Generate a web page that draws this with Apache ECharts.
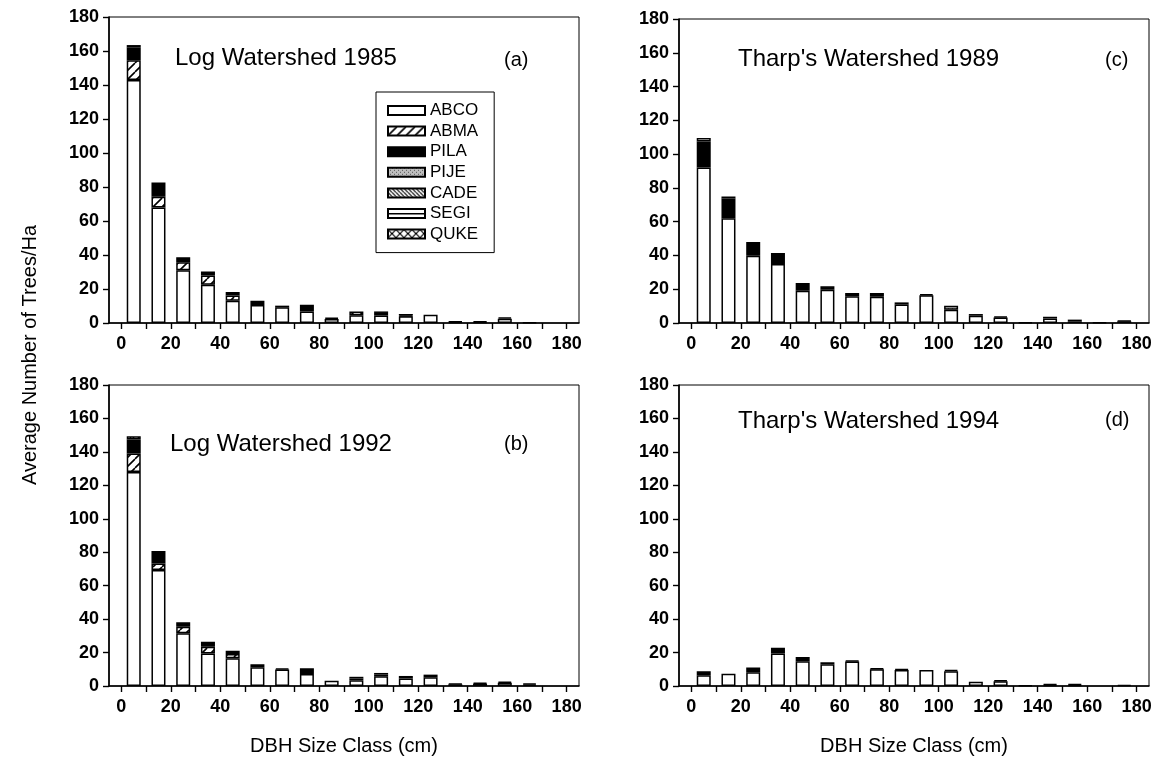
<!DOCTYPE html>
<html>
<head>
<meta charset="utf-8">
<script src="https://cdn.jsdelivr.net/npm/echarts@6/dist/echarts.min.js"></script>
<style>
  html, body { margin: 0; padding: 0; background: #fff; }
  #chart { width: 1158px; height: 767px; }
</style>
</head>
<body>
<div id="chart"></div>
<script>
// DBH size classes (bar centres, cm)
const sizeClasses = [5, 15, 25, 35, 45, 55, 65, 75, 85, 95, 105, 115, 125, 135, 145, 155, 165, 175];
const xTicks = [0, 10, 20, 30, 40, 50, 60, 70, 80, 90, 100, 110, 120, 130, 140, 150, 160, 170, 180];
const xLabels = [0, 20, 40, 60, 80, 100, 120, 140, 160, 180];
const species = ['ABCO', 'ABMA', 'PILA', 'PIJE', 'CADE', 'SEGI', 'QUKE'];

// (a) Log Watershed 1985
const log85_ABCO = [143, 68, 31, 22.5, 13.1, 10.6, 9.2, 6.8, 2.4, 4.5, 4.4, 3.9, 4.9, 0.6, 0.5, 2.5, 0.3, 0];
const log85_ABMA = [11.5, 6.3, 4.8, 5.4, 3.1, 0, 0, 0, 0, 2.3, 1.5, 0.5, 0, 0.4, 0, 0, 0, 0];
const log85_PILA = [7.5, 8.4, 2.9, 2.4, 2, 2.5, 1, 3.9, 0.7, 0, 0.9, 0.9, 0, 0, 0.5, 0.8, 0, 0];
const log85_QUKE = [1.5, 0, 0, 0, 0, 0, 0, 0, 0, 0, 0, 0, 0, 0, 0, 0, 0, 0];

// (b) Log Watershed 1992
const log92_ABCO = [128, 69.3, 31.5, 19.5, 16.6, 11.2, 9.8, 7.2, 3.2, 3.5, 5.8, 4.5, 5.2, 1, 1.4, 1.9, 0.8, 0];
const log92_ABMA = [11, 4, 3.9, 4, 2.5, 0, 0, 0, 0, 1, 1, 0, 0, 0, 0, 0, 0, 0];
const log92_PILA = [8.4, 7.4, 2.7, 3, 2, 1.8, 0.8, 3.4, 0, 1, 1, 1.5, 1.6, 0.5, 0.6, 0.7, 0.8, 0];
const log92_QUKE = [2, 0, 0, 0, 0, 0, 0, 0, 0, 0, 0, 0, 0, 0, 0, 0, 0, 0];

// (c) Tharp's Watershed 1989
const tharp89_ABCO = [92, 62, 39.8, 34.9, 19.1, 19.7, 15.8, 15.5, 10.9, 16.4, 7.9, 4.3, 3.2, 0, 2.7, 1, 0.3, 1];
const tharp89_PILA = [15.5, 11.7, 8.1, 6.5, 4.6, 2, 2, 2.3, 1.3, 0.8, 0, 1, 0.7, 0.4, 1, 1, 0, 0.4];
const tharp89_PIJE = [0, 1.2, 0, 0, 0, 0, 0, 0, 0, 0, 2.3, 0, 0, 0, 0, 0, 0, 0];
const tharp89_SEGI = [2, 0, 0, 0, 0, 0, 0, 0, 0, 0, 0, 0, 0, 0, 0, 0, 0, 0];

// (d) Tharp's Watershed 1994
const tharp94_ABCO = [6.4, 7.4, 8.2, 19.4, 14.8, 13, 14.6, 10, 9.6, 9.6, 8.8, 2.6, 2.8, 0, 0.6, 0.6, 0, 0.6];
const tharp94_PILA = [2.4, 0, 2.8, 3.4, 2.6, 1.2, 0.6, 0.6, 0.6, 0, 0.8, 0, 0.8, 0.4, 0.6, 0.6, 0, 0];

const panels = [
  { title: 'Log Watershed 1985', tag: '(a)', left: 109, top: 17, height: 306,
    data: { ABCO: log85_ABCO, ABMA: log85_ABMA, PILA: log85_PILA, QUKE: log85_QUKE } },
  { title: 'Log Watershed 1992', tag: '(b)', left: 109, top: 385, height: 301,
    data: { ABCO: log92_ABCO, ABMA: log92_ABMA, PILA: log92_PILA, QUKE: log92_QUKE } },
  { title: "Tharp's Watershed 1989", tag: '(c)', left: 679, top: 19, height: 304,
    data: { ABCO: tharp89_ABCO, PILA: tharp89_PILA, PIJE: tharp89_PIJE, SEGI: tharp89_SEGI } },
  { title: "Tharp's Watershed 1994", tag: '(d)', left: 679, top: 385, height: 301,
    data: { ABCO: tharp94_ABCO, PILA: tharp94_PILA } }
];

// hatch fills
function pattern(size, draw) {
  const c = document.createElement('canvas');
  c.width = c.height = size;
  const ctx = c.getContext('2d');
  ctx.fillStyle = '#fff';
  ctx.fillRect(0, 0, size, size);
  ctx.strokeStyle = '#000';
  ctx.fillStyle = '#000';
  draw(ctx, size);
  return { image: c, repeat: 'repeat' };
}
function diag(ctx, s, back) {
  ctx.beginPath();
  for (let k = -1; k <= 1; k++) {
    if (back) { ctx.moveTo(k * s, 0); ctx.lineTo(k * s + s, s); }
    else { ctx.moveTo(k * s, s); ctx.lineTo(k * s + s, 0); }
  }
  ctx.stroke();
}
const fills = {
  ABCO: '#fff',
  ABMA: pattern(9, (ctx, s) => { ctx.lineWidth = 1.6; diag(ctx, s, false); }),
  PILA: '#000',
  PIJE: pattern(4, (ctx, s) => {
    ctx.fillStyle = '#bdbdbd'; ctx.fillRect(0, 0, s, s);
    ctx.fillStyle = '#555'; ctx.fillRect(0, 0, 1, 1); ctx.fillRect(2, 2, 1, 1);
  }),
  CADE: pattern(4, (ctx, s) => { ctx.lineWidth = 1.2; diag(ctx, s, true); }),
  SEGI: pattern(8, (ctx, s) => { ctx.fillRect(0, 4, s, 1.5); }),
  QUKE: pattern(8, (ctx, s) => { ctx.lineWidth = 1.2; diag(ctx, s, true); diag(ctx, s, false); })
};

const catData = ['-5'].concat(sizeClasses.map(String), ['185']);
const tickFont = { fontFamily: 'Liberation Sans', fontSize: 18, fontWeight: 'bold', color: '#000' };

const grid = [], xAxis = [], yAxis = [], series = [], title = [];
panels.forEach((p, i) => {
  grid.push({ left: p.left, top: p.top, width: 470, height: p.height,
    show: true, borderColor: '#000', borderWidth: 1, containLabel: false });
  // category axis carrying the bars (hidden)
  xAxis.push({ type: 'category', gridIndex: i, data: catData, boundaryGap: false, show: false });
  // value axis for ticks and labels
  xAxis.push({
    type: 'value', gridIndex: i, min: -5, max: 185, position: 'bottom',
    axisLine: { show: true, onZero: false, lineStyle: { color: '#000', width: 1.6 } },
    axisTick: { show: true, length: 6, customValues: xTicks, lineStyle: { color: '#000', width: 1.4 } },
    axisLabel: Object.assign({ customValues: xLabels, margin: 12 }, tickFont),
    splitLine: { show: false },
    name: i % 2 === 1 ? 'DBH Size Class (cm)' : '',
    nameLocation: 'middle', nameGap: 50,
    nameTextStyle: { fontFamily: 'Liberation Sans', fontSize: 20, color: '#000' }
  });
  yAxis.push({
    type: 'value', gridIndex: i, min: 0, max: 180, interval: 20,
    axisLine: { show: true, onZero: false, lineStyle: { color: '#000', width: 1.6 } },
    axisTick: { show: true, length: 6, lineStyle: { color: '#000', width: 1.4 } },
    axisLabel: Object.assign({ margin: 10 }, tickFont),
    splitLine: { show: false }
  });
  species.forEach(sp => {
    const vals = p.data[sp] || sizeClasses.map(() => 0);
    series.push({
      name: sp, type: 'bar', stack: 'p' + i,
      xAxisIndex: i * 2, yAxisIndex: i,
      barWidth: 14,
      itemStyle: { color: fills[sp], borderColor: '#000', borderWidth: 1.5 },
      emphasis: { disabled: true },
      data: ['-'].concat(vals.map(v => (v > 0 ? v : '-')), ['-'])
    });
  });
});

title.push(
  { text: panels[0].title, left: 170, top: 41 },
  { text: panels[1].title, left: 165, top: 427 },
  { text: panels[2].title, left: 733, top: 42 },
  { text: panels[3].title, left: 733, top: 404 }
);
title.forEach(t => { t.textStyle = { fontFamily: 'Liberation Sans', fontSize: 24, fontWeight: 'normal', color: '#000' }; });
const tagStyle = { fontFamily: 'Liberation Sans', fontSize: 20, fontWeight: 'normal', color: '#000' };
title.push(
  { text: '(a)', left: 499, top: 45, textStyle: tagStyle },
  { text: '(b)', left: 499, top: 429, textStyle: tagStyle },
  { text: '(c)', left: 1100, top: 45, textStyle: tagStyle },
  { text: '(d)', left: 1100, top: 405, textStyle: tagStyle }
);

const chart = echarts.init(document.getElementById('chart'));
chart.setOption({
  animation: false,
  backgroundColor: '#fff',
  title: title,
  legend: {
    data: species, orient: 'vertical', left: 376, top: 92,
    padding: [10, 16, 10, 11], itemGap: 3.6, itemWidth: 37, itemHeight: 9,
    icon: 'rect', borderColor: '#000', borderWidth: 1, selectedMode: false,
    textStyle: { fontFamily: 'Liberation Sans', fontSize: 17, color: '#000', lineHeight: 17 }
  },
  grid: grid,
  xAxis: xAxis,
  yAxis: yAxis,
  series: series,
  graphic: [{
    type: 'text', x: 30, y: 355, rotation: Math.PI / 2,
    style: { text: 'Average Number of Trees/Ha', font: '20px "Liberation Sans"', fill: '#000',
      textAlign: 'center', textVerticalAlign: 'middle' }
  }]
});
</script>
</body>
</html>
